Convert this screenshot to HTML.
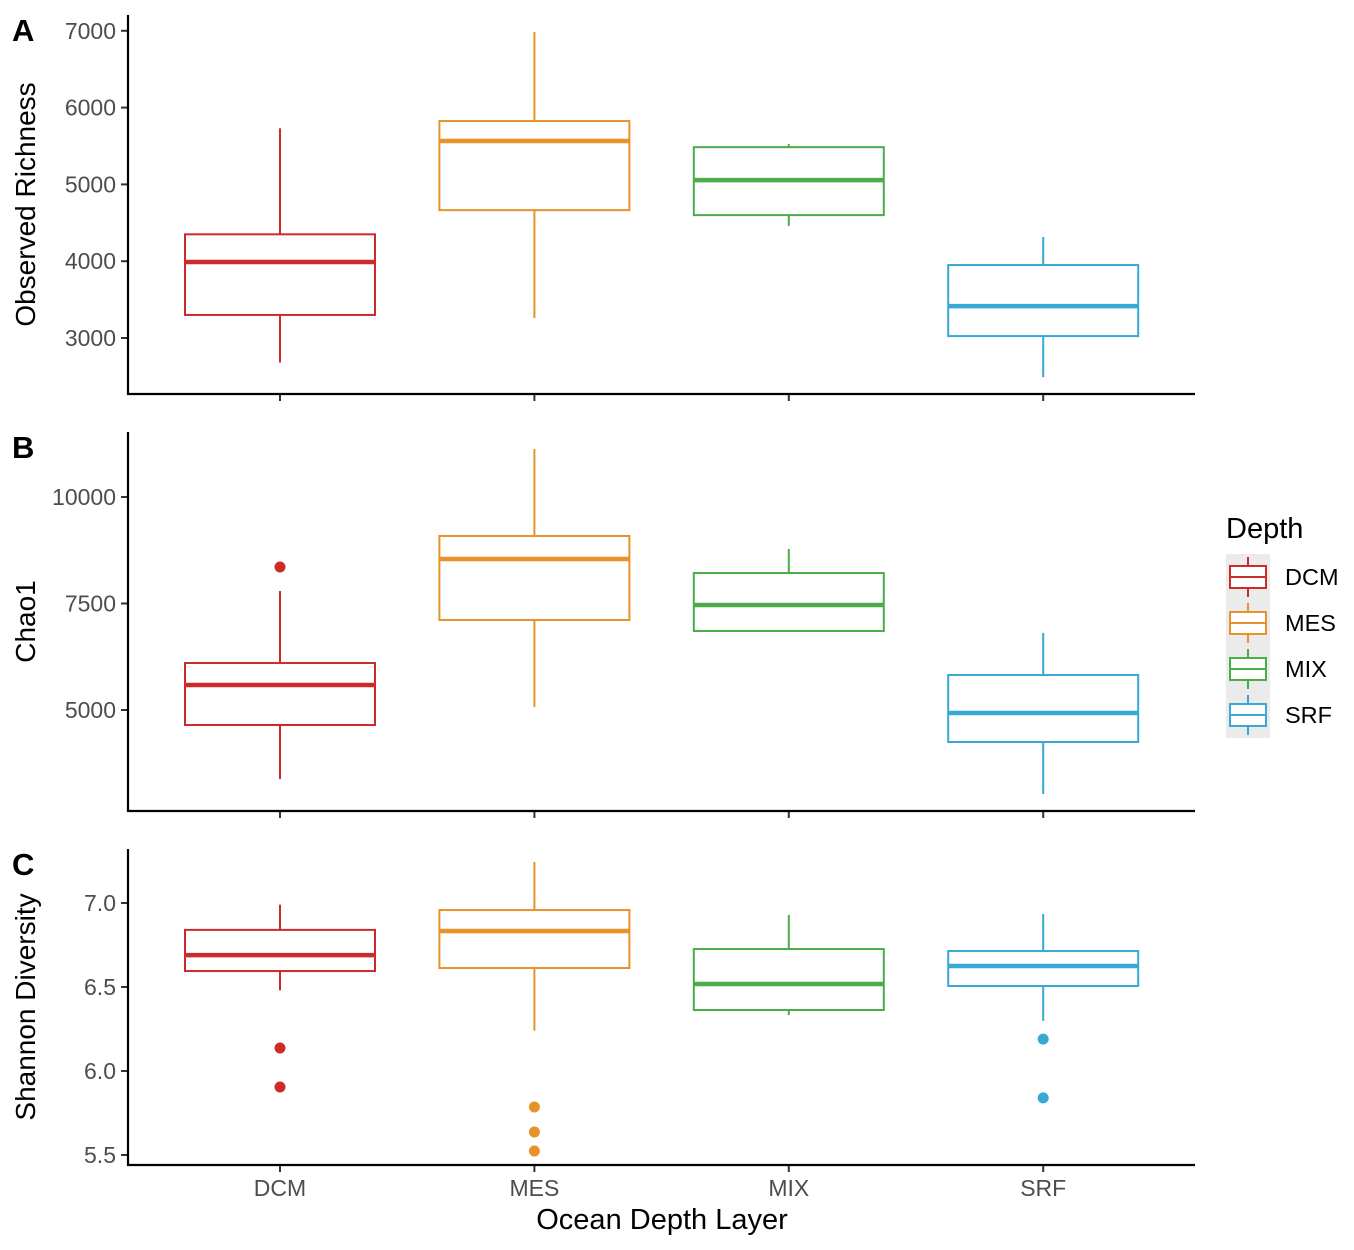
<!DOCTYPE html>
<html><head><meta charset="utf-8"><style>body{margin:0;background:#fff}svg{display:block;font-family:"Liberation Sans",Arial,sans-serif}</style></head>
<body>
<svg id="chart" width="1354" height="1250" viewBox="0 0 1354 1250" xmlns="http://www.w3.org/2000/svg"></svg>
<script>
const categories = ["DCM","MES","MIX","SRF"];
const colors = ["#cf2a2a","#e8922a","#4aad48","#38a8d4"];
// [low, q1, median, q3, high]
const richnessStats = [[2680,3300,3990,4350,5730],[3260,4665,5565,5825,6985],[4460,4600,5055,5485,5525],[2490,3025,3415,3950,4315]];
const richnessOutliers = [[],[],[],[]];
const chaoStats = [[3380,4648,5587,6103,7793],[5070,7113,8545,9085,11127],[6831,6855,7465,8216,8780],[3028,4249,4930,5822,6808]];
const chaoOutliers = [[8357],[],[],[]];
const shannonStats = [[6.48,6.595,6.69,6.84,6.99],[6.24,6.613,6.833,6.958,7.244],[6.333,6.363,6.518,6.726,6.929],[6.298,6.506,6.625,6.714,6.935]];
const shannonOutliers = [[6.137,5.905],[5.786,5.637,5.524],[],[6.19,5.84]];
const richnessTicks = [3000,4000,5000,6000,7000];
const chaoTicks = [5000,7500,10000];
const shannonTicks = [5.5,6.0,6.5,7.0];

const svg = document.getElementById('chart');
const NS = "http://www.w3.org/2000/svg";
function mk(tag, attrs, parent){const e=document.createElementNS(NS,tag);for(const k in attrs)e.setAttribute(k,attrs[k]);(parent||svg).appendChild(e);return e;}
const xScale = i => 280 + i*254.4;
const BW = 95;

const panels = [
 {name:"richness",letter:"A",top:15,bottom:394,stats:richnessStats,out:richnessOutliers,ticks:richnessTicks,fmt:v=>String(v),
  y:v=>338-(v-3000)*0.0768,title:"Observed Richness"},
 {name:"chao1",letter:"B",top:432,bottom:811,stats:chaoStats,out:chaoOutliers,ticks:chaoTicks,fmt:v=>String(v),
  y:v=>710-(v-5000)*0.0426,title:"Chao1"},
 {name:"shannon",letter:"C",top:849,bottom:1165,stats:shannonStats,out:shannonOutliers,ticks:shannonTicks,fmt:v=>v.toFixed(1),
  y:v=>903-(v-7)*168,title:"Shannon Diversity"}
];

panels.forEach((p,pi)=>{
  const g = mk('g',{});
  
  
  const lt = mk('text',{x:12,y:p.top+26,'font-size':31,'font-weight':'bold',fill:'#000'},g);
  lt.textContent=p.letter;
  
  
  const mid=(p.top+p.bottom)/2;
  const yt = mk('text',{x:0,y:0,'font-size':28,fill:'#000','text-anchor':'middle',transform:`translate(35,${mid}) rotate(-90)`},g);
  yt.textContent=p.title;
  
  
  p.ticks.forEach(t=>{
    const yy=p.y(t);
    mk('line',{x1:121,x2:128,y1:yy,y2:yy,stroke:'#333','stroke-width':2},g);
    const tl=mk('text',{x:116,y:yy+8,'font-size':23,fill:'#4d4d4d','text-anchor':'end'},g);
    tl.textContent=p.fmt(t);
    
    
  });
  categories.forEach((c,i)=>{
    const x=xScale(i), s=p.stats[i], col=colors[i];
    mk('line',{x1:x,x2:x,y1:p.bottom,y2:p.bottom+7,stroke:'#333','stroke-width':2},g);
    const b=mk('g',{},g);
    
    
    mk('line',{x1:x,x2:x,y1:p.y(s[0]),y2:p.y(s[1]),stroke:col,'stroke-width':2},b);
    mk('line',{x1:x,x2:x,y1:p.y(s[3]),y2:p.y(s[4]),stroke:col,'stroke-width':2},b);
    mk('rect',{x:x-BW,y:p.y(s[3]),width:2*BW,height:p.y(s[1])-p.y(s[3]),fill:'#fff',stroke:col,'stroke-width':2},b);
    mk('line',{x1:x-BW,x2:x+BW,y1:p.y(s[2]),y2:p.y(s[2]),stroke:col,'stroke-width':4.5},b);
    p.out[i].forEach(o=>{
      const d=mk('circle',{cx:x,cy:p.y(o),r:5.5,fill:col},b);
      
      
    });
  });
  mk('line',{x1:128,x2:128,y1:p.top,y2:p.bottom+1,stroke:'#000','stroke-width':2.2},g);
  mk('line',{x1:127,x2:1195,y1:p.bottom,y2:p.bottom,stroke:'#000','stroke-width':2.2},g);
});
categories.forEach((c,i)=>{
  const t=mk('text',{x:xScale(i),y:1196,'font-size':23,fill:'#4d4d4d','text-anchor':'middle'});
  t.textContent=c;
  
  
});
const xt=mk('text',{x:662,y:1229,'font-size':29,fill:'#000','text-anchor':'middle'});
xt.textContent="Ocean Depth Layer";



const lg=mk('g',{});


const ltitle=mk('text',{x:1226,y:538,'font-size':29,fill:'#000'},lg);
ltitle.textContent="Depth";
categories.forEach((c,i)=>{
  const cy=577+i*46, col=colors[i];
  const e=mk('g',{},lg);
  
  
  mk('rect',{x:1226,y:cy-23,width:44,height:46,fill:'#ebebeb'},e);
  mk('line',{x1:1248,x2:1248,y1:cy-20,y2:cy+20,stroke:col,'stroke-width':2},e);
  mk('rect',{x:1230,y:cy-11,width:36,height:22,fill:'#fff',stroke:col,'stroke-width':2},e);
  mk('line',{x1:1230,x2:1266,y1:cy,y2:cy,stroke:col,'stroke-width':2},e);
  const t=mk('text',{x:1285,y:cy+8,'font-size':23.5,fill:'#000'},e);
  t.textContent=c;
});
</script>
</body></html>
